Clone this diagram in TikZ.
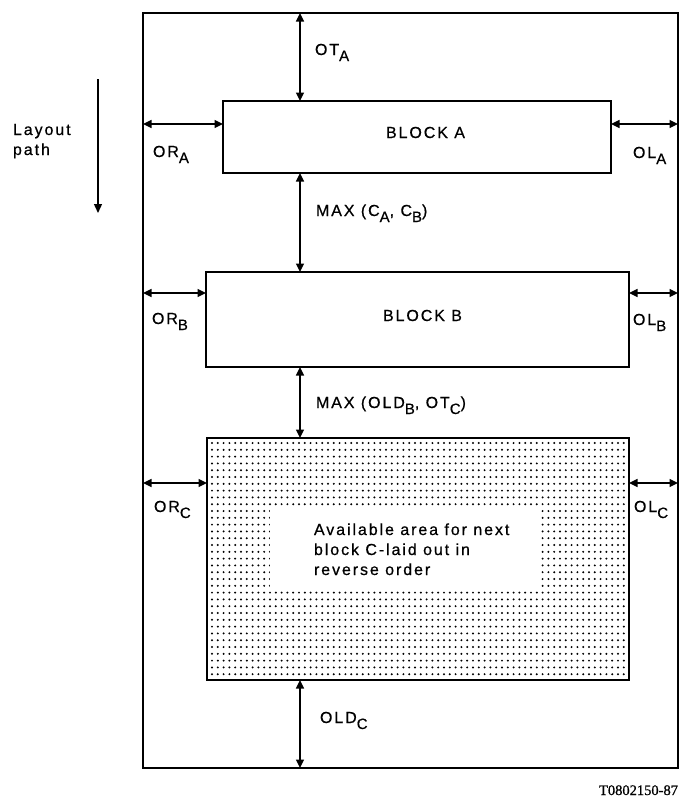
\documentclass[tikz,border=0pt]{standalone}
\usepackage{fontspec}
\setmainfont{Liberation Sans}[LetterSpace=12,FakeBold=0.6]
\newfontfamily\idfont{Liberation Serif}[FakeBold=1]
\usetikzlibrary{arrows.meta}
\newcommand\subx[1]{\raisebox{-6pt}{\fontsize{15}{15}\selectfont #1}}
\begin{document}
\begin{tikzpicture}[x=1pt,y=-1pt,
  every node/.style={font=\fontsize{16}{19.5}\selectfont, inner sep=0pt, outer sep=0pt},
  lbl/.style={anchor=base west},
  blockbox/.style={draw, line width=2pt, minimum width=#1},
  frm/.style={draw, line width=1.6pt},
  dim/.style={{Triangle[length=8.5pt,width=8pt]}-{Triangle[length=8.5pt,width=8pt]}, line width=1.4pt},
  dotc/.style={fill=black}]
\useasboundingbox (0,0) rectangle (681,798);
% dotted pattern of block C area
\foreach \i in {0,...,71}{
  \foreach \j in {0,...,34}{
    \fill[dotc] (212+\i*5.8,443+\j*6.8) circle (1.1);
  }
}
\fill[white] (270,508) rectangle (540,588);
% frame and blocks
\node[frm, minimum width=535pt, minimum height=755pt] (F) at (410.5,390.5) {};
\node[blockbox=388pt, minimum height=72pt] (A) at (417,137) {};
\node[blockbox=423pt, minimum height=95pt] (B) at (417.5,319.5) {};
\node[blockbox=422pt, minimum height=242pt] (C) at (418,559) {};
% helper coordinates
\coordinate (xa) at (300,0);
\coordinate (ya) at (0,124);
\coordinate (yb) at (0,293);
\coordinate (yc) at (0,483);
\coordinate (lp1) at (98,79);
\coordinate (lp2) at (98,213);
% vertical dimension arrows
\draw[dim] (F.north -| xa) -- (A.north -| xa);
\draw[dim] (A.south -| xa) -- (B.north -| xa);
\draw[dim] (B.south -| xa) -- (C.north -| xa);
\draw[dim] (C.south -| xa) -- (F.south -| xa);
% horizontal dimension arrows
\draw[dim] (F.west |- ya) -- (A.west |- ya);
\draw[dim] (A.east |- ya) -- (F.east |- ya);
\draw[dim] (F.west |- yb) -- (B.west |- yb);
\draw[dim] (B.east |- yb) -- (F.east |- yb);
\draw[dim] (F.west |- yc) -- (C.west |- yc);
\draw[dim] (C.east |- yc) -- (F.east |- yc);
% layout path arrow
\draw[-{Triangle[length=9pt,width=8pt]}, line width=1.4pt] (lp1) -- (lp2);
\node[lbl] (lay1) at (13,135) {Layout};
\node[lbl] (lay2) at (13,155) {path};
% labels
\node[lbl] (otA) at (315,55) {OT\subx{A}};
\node[lbl] (orA) at (153,157) {OR\subx{A}};
\node[lbl] (olA) at (633,158) {OL\subx{A}};
\node[lbl] (tA) at (386,138) {BLOCK A};
\node[lbl] (mAB) at (316,216) {MAX (C\subx{A}, C\subx{B})};
\node[lbl] (orB) at (152,324) {OR\subx{B}};
\node[lbl] (tB) at (383,321) {BLOCK B};
\node[lbl] (olB) at (633,325) {OL\subx{B}};
\node[lbl] (mBC) at (316,408) {MAX (OLD\subx{B}, OT\subx{C})};
\node[lbl] (orC) at (154,512) {OR\subx{C}};
\node[lbl] (olC) at (634,512) {OL\subx{C}};
\node[lbl] (t1) at (314,535) {Available area for next};
\node[lbl] (t2) at (314,555) {block C-laid out in};
\node[lbl] (t3) at (314,575) {reverse order};
\node[lbl] (oldC) at (320,723) {OLD\subx{C}};
\node[anchor=base east, font=\idfont\fontsize{14.5}{14.5}\selectfont] (id) at (678,795) {T0802150-87};
\end{tikzpicture}
\end{document}
